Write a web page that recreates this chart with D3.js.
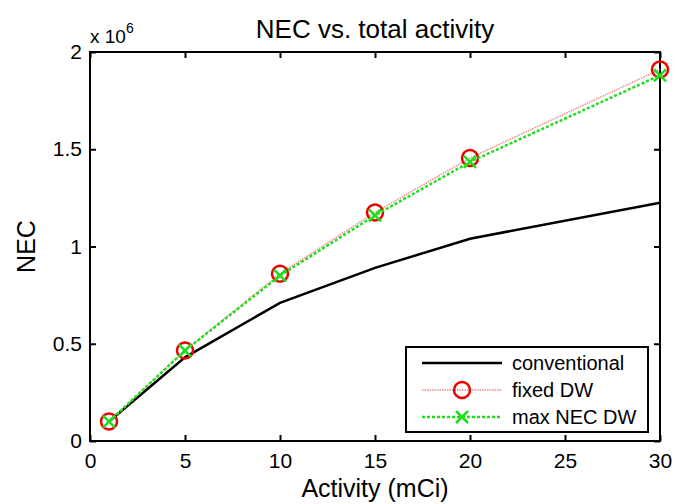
<!DOCTYPE html>
<html>
<head>
<meta charset="utf-8">
<script src="https://cdn.jsdelivr.net/npm/d3@7"></script>
<style>
  body { margin: 0; background: #fff; }
  svg text { font-family: "Liberation Sans", Arial, sans-serif; fill: #000; }
</style>
</head>
<body>
<div id="chart"></div>
<script>
// activity in mCi
const activity = [1, 5, 10, 15, 20, 30];
// NEC values (units of 1e6)
const conventional = [0.1, 0.43, 0.71, 0.89, 1.04, 1.225];
const fixedDW = [0.1, 0.465, 0.86, 1.175, 1.455, 1.91];
const maxNecDW = [0.1, 0.465, 0.85, 1.16, 1.435, 1.88];
const xTicks = [0, 5, 10, 15, 20, 25, 30];
const yTicks = [0, 0.5, 1, 1.5, 2];
const seriesNames = ['conventional', 'fixed DW', 'max NEC DW'];

const width = 675, height = 504;
const margin = { top: 52, right: 15, bottom: 63, left: 90 };
const innerW = width - margin.left - margin.right;
const innerH = height - margin.top - margin.bottom;

const svg = d3.select('#chart').append('svg')
  .attr('width', width)
  .attr('height', height);

const g = svg.append('g')
  .attr('transform', `translate(${margin.left},${margin.top})`);

const x = d3.scaleLinear().domain([0, 30]).range([0, innerW]);
const y = d3.scaleLinear().domain([0, 2]).range([innerH, 0]);

const tickLen = 6;

// bottom axis, ticks pointing in
g.append('g')
  .attr('transform', `translate(0,${innerH})`)
  .call(d3.axisBottom(x).tickValues(xTicks).tickSize(-tickLen).tickPadding(12).tickFormat(d3.format('d')))
  .call(a => a.select('.domain').remove())
  .call(a => a.selectAll('text').attr('font-size', 21));

// top axis ticks
g.append('g')
  .call(d3.axisTop(x).tickValues(xTicks).tickSize(-tickLen).tickFormat(''))
  .call(a => a.select('.domain').remove());

// left axis
g.append('g')
  .call(d3.axisLeft(y).tickValues(yTicks).tickSize(-tickLen).tickPadding(8).tickFormat(d => d))
  .call(a => a.select('.domain').remove())
  .call(a => a.selectAll('text').attr('font-size', 21));

// right axis ticks
g.append('g')
  .attr('transform', `translate(${innerW},0)`)
  .call(d3.axisRight(y).tickValues(yTicks).tickSize(-tickLen).tickFormat(''))
  .call(a => a.select('.domain').remove());

g.selectAll('.tick line').attr('stroke', '#000').attr('stroke-width', 2);

// box
g.append('rect')
  .attr('width', innerW)
  .attr('height', innerH)
  .attr('fill', 'none')
  .attr('stroke', '#000')
  .attr('stroke-width', 2);

const line = d3.line()
  .x((d, i) => x(activity[i]))
  .y(d => y(d));

g.append('path')
  .datum(conventional)
  .attr('d', line)
  .attr('fill', 'none')
  .attr('stroke', '#000')
  .attr('stroke-width', 2.5);

g.append('path')
  .datum(fixedDW)
  .attr('d', line)
  .attr('fill', 'none')
  .attr('stroke', '#f08a8a')
  .attr('stroke-width', 1.5)
  .attr('stroke-dasharray', '1.5,1');

g.selectAll('.circ').data(fixedDW).enter().append('circle')
  .attr('cx', (d, i) => x(activity[i]))
  .attr('cy', d => y(d))
  .attr('r', 8)
  .attr('fill', 'none')
  .attr('stroke', '#e00')
  .attr('stroke-width', 2.5);

g.append('path')
  .datum(maxNecDW)
  .attr('d', line)
  .attr('fill', 'none')
  .attr('stroke', '#1de01d')
  .attr('stroke-width', 2.5)
  .attr('stroke-dasharray', '3,2');

const cross = (sel, cx, cy, s) => {
  sel.append('path')
    .attr('d', `M${cx - s},${cy - s}L${cx + s},${cy + s}M${cx - s},${cy + s}L${cx + s},${cy - s}`)
    .attr('stroke', '#1de01d')
    .attr('stroke-width', 2.5)
    .attr('fill', 'none');
};

maxNecDW.forEach((d, i) => cross(g, x(activity[i]), y(d), 6));

// legend
const lg = g.append('g').attr('transform', `translate(${innerW - 254},${innerH - 94})`);
lg.append('rect')
  .attr('width', 242)
  .attr('height', 85)
  .attr('fill', '#fff')
  .attr('stroke', '#000')
  .attr('stroke-width', 2);

const rowY = [16, 43, 70];
seriesNames.forEach((name, i) => {
  const row = lg.append('g').attr('transform', `translate(0,${rowY[i]})`);
  const l = row.append('line')
    .attr('x1', 16).attr('x2', 96)
    .attr('y1', 0).attr('y2', 0)
    .attr('fill', 'none');
  if (i === 0) {
    l.attr('stroke', '#000').attr('stroke-width', 2.5);
  } else if (i === 1) {
    l.attr('stroke', '#f08a8a').attr('stroke-width', 1.5).attr('stroke-dasharray', '1.5,1');
    row.append('circle').attr('cx', 56).attr('cy', 0).attr('r', 8)
      .attr('fill', 'none').attr('stroke', '#e00').attr('stroke-width', 2.5);
  } else {
    l.attr('stroke', '#1de01d').attr('stroke-width', 2.5).attr('stroke-dasharray', '3,2');
    cross(row, 56, 0, 6);
  }
  row.append('text')
    .attr('x', 106)
    .attr('y', 0)
    .attr('dy', '0.36em')
    .attr('font-size', 20)
    .text(name);
});

// title
svg.append('text')
  .attr('x', margin.left + innerW / 2)
  .attr('y', 38)
  .attr('text-anchor', 'middle')
  .attr('font-size', 26)
  .text('NEC vs. total activity');

// exponent
const ex = svg.append('text')
  .attr('x', margin.left)
  .attr('y', 43)
  .attr('font-size', 19);
ex.append('tspan').text('x 10');
ex.append('tspan').attr('dy', -10).attr('font-size', 14).text('6');

// axis labels
svg.append('text')
  .attr('x', margin.left + innerW / 2)
  .attr('y', 497)
  .attr('text-anchor', 'middle')
  .attr('font-size', 25)
  .text('Activity (mCi)');

svg.append('text')
  .attr('transform', `translate(35,${margin.top + innerH / 2}) rotate(-90)`)
  .attr('text-anchor', 'middle')
  .attr('font-size', 25)
  .text('NEC');
</script>
</body>
</html>
